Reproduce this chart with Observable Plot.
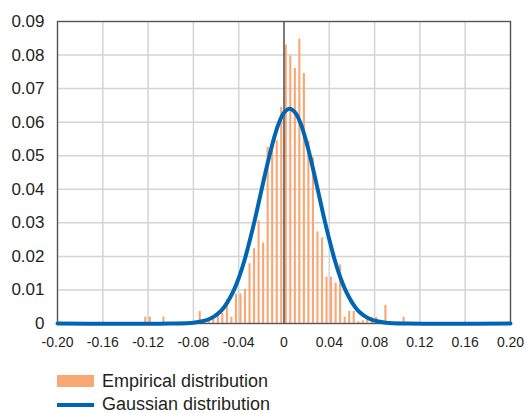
<!DOCTYPE html>
<html>
<head>
<meta charset="utf-8">
<script src="https://cdn.jsdelivr.net/npm/d3@7"></script>
<script src="https://cdn.jsdelivr.net/npm/@observablehq/plot@0.6"></script>
<style>
  html, body { margin: 0; padding: 0; background: #fff; }
  body { width: 526px; height: 413px; position: relative; overflow: hidden;
         font-family: "Liberation Sans", Arial, Helvetica, sans-serif; color: #231f20; }
  #chart { position: absolute; left: 0; top: 0; }
  .leg { position: absolute; left: 0; font-size: 18px; line-height: 16px; }
  .sw { position: absolute; left: 57px; width: 37px; }
  .lt { position: absolute; left: 102px; white-space: nowrap; }
</style>
</head>
<body>
<div id="chart"></div>
<div class="sw" style="top:375px;height:12px;background:#f9a875;"></div>
<div class="lt leg" style="top:373px;">Empirical distribution</div>
<div class="sw" style="top:403px;height:4px;background:#0066b3;"></div>
<div class="lt leg" style="top:396px;">Gaussian distribution</div>
<script>
// Histogram bins (left edge of each 0.004-wide bin) and empirical probabilities
const binStart = [-0.124,-0.120,-0.116,-0.112,-0.108,-0.104,-0.100,-0.096,-0.092,-0.088,-0.084,-0.080,
  -0.076,-0.072,-0.068,-0.064,-0.060,-0.056,-0.052,-0.048,-0.044,-0.040,-0.036,-0.032,-0.028,-0.024,
  -0.020,-0.016,-0.012,-0.008,-0.004,0.000,0.004,0.008,0.012,0.016,0.020,0.024,0.028,0.032,0.036,
  0.040,0.044,0.048,0.052,0.056,0.060,0.064,0.068,0.072,0.076,0.080,0.084,0.088,0.092,0.096,0.100,0.104];
const binWidth = 0.004;
const empirical = [0.0019,0.0019,0,0,0.0019,0,0,0,0,0,0,0,
  0.0036,0.0005,0.001,0.002,0.0025,0.003,0.0071,0.0019,0.0088,0.0088,0.0102,0.0178,0.0223,0.0306,
  0.024,0.0525,0.0542,0.0545,0.0644,0.083,0.0797,0.076,0.0847,0.0745,0.0543,0.0494,0.0273,0.0255,0.0138,
  0.0138,0.012,0.0175,0.0019,0.0036,0.0036,0.0005,0.0008,0.0015,0.0018,0.0018,0,0.0054,0,0,0,0.0019];

// Gaussian curve points
const gaussX = [-0.20,-0.10,-0.08,-0.07,-0.065,-0.06,-0.055,-0.05,-0.045,-0.04,-0.035,-0.03,-0.025,-0.02,-0.015,-0.01,-0.005,0,0.005,
  0.01,0.015,0.02,0.025,0.03,0.035,0.04,0.045,0.05,0.055,0.06,0.065,0.07,0.075,0.08,0.09,0.11,0.20];
const gaussY = [0,0,0.00025,0.00085,0.0015,0.0025,0.0040,0.0063,0.0094,0.0135,0.0187,0.0250,0.0320,0.0396,0.0470,0.0538,0.0593,0.0628,0.0640,
  0.0628,0.0593,0.0538,0.0470,0.0396,0.0320,0.0250,0.0187,0.0135,0.0094,0.0063,0.0040,0.0025,0.0015,0.00085,0.00025,0,0];

const xTicks = [-0.20,-0.16,-0.12,-0.08,-0.04,0,0.04,0.08,0.12,0.16,0.20];
const xTickLabels = ["-0.20","-0.16","-0.12","-0.08","-0.04","0","0.04","0.08","0.12","0.16","0.20"];
const yTicks = [0,0.01,0.02,0.03,0.04,0.05,0.06,0.07,0.08,0.09];
const yTickLabels = ["0","0.01","0.02","0.03","0.04","0.05","0.06","0.07","0.08","0.09"];

const bins = binStart.map((x0, i) => ({x1: x0, x2: x0 + binWidth, p: empirical[i]}));
const gauss = gaussX.map((x, i) => ({x, y: gaussY[i]}));

const chart = Plot.plot({
  width: 526,
  height: 362,
  marginLeft: 57,
  marginRight: 16,
  marginTop: 21,
  marginBottom: 39,
  style: {fontFamily: '"Liberation Sans", Arial, Helvetica, sans-serif', color: "#231f20", background: "#fff"},
  x: {domain: [-0.2, 0.2]},
  y: {domain: [0, 0.09]},
  marks: [
    Plot.gridX(xTicks.filter(d => d !== 0), {stroke: "#d4d4d4", strokeOpacity: 1, strokeWidth: 1.5}),
    Plot.gridY(yTicks, {stroke: "#d4d4d4", strokeOpacity: 1, strokeWidth: 1.5}),
    Plot.rectY(bins, {x1: "x1", x2: "x2", y: "p", fill: "#f9a875", insetLeft: 1.2, insetRight: 1.2}),
    Plot.ruleX([0], {stroke: "#333", strokeWidth: 1.3}),
    Plot.frame({stroke: "#555", strokeWidth: 1.3}),
    Plot.line(gauss, {x: "x", y: "y", stroke: "#0066b3", strokeWidth: 4, curve: "catmull-rom"}),
    Plot.axisY(yTicks, {tickSize: 0, tickPadding: 13, fontSize: 17, tickFormat: (d, i) => yTickLabels[i]}),
    Plot.axisX(xTicks, {tickSize: 0, tickPadding: 14, fontSize: 14, letterSpacing: -0.3, tickFormat: (d, i) => xTickLabels[i]})
  ]
});
document.getElementById("chart").appendChild(chart);
</script>
</body>
</html>
